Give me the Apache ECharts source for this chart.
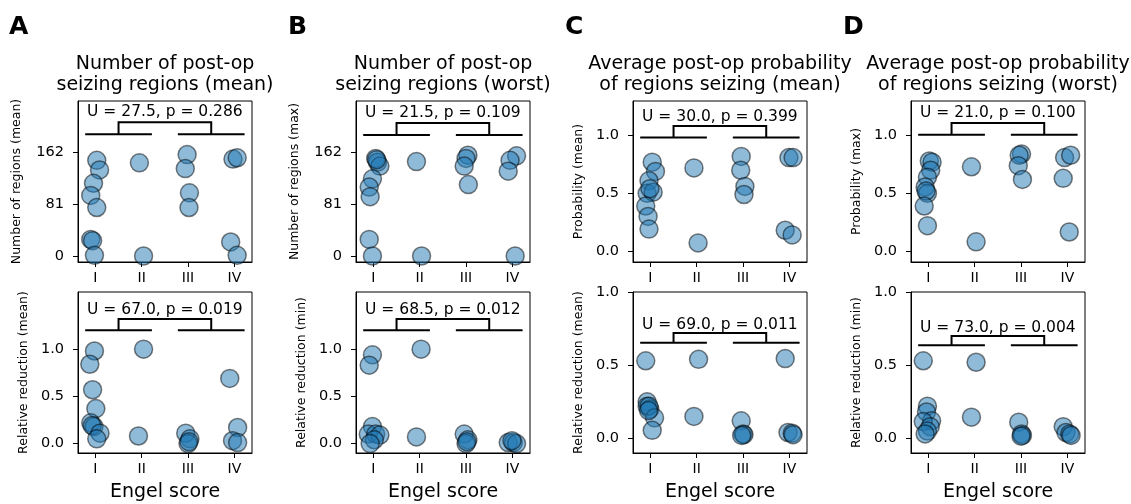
<!DOCTYPE html>
<html>
<head>
<meta charset="utf-8">
<script src="https://cdn.jsdelivr.net/npm/echarts@6/dist/echarts.min.js"></script>
<style>
  html, body { margin: 0; padding: 0; background: #fff; }
  #chart { width: 1131px; height: 504px; }
</style>
</head>
<body>
<div id="chart"></div>
<script>
// Engel score categories
const engelLabels = ["I", "II", "III", "IV"];
const engelTicks = [1, 2, 3, 4];
const countTicks = [0, 81, 162];
const fracTicks = [0, 0.5, 1.0];

// top row: number of regions / probability (x = jittered Engel score)
const regMeanX = [1.03, 1.09, 0.96, 0.90, 1.03, 0.90, 0.94, 0.98, 1.95, 2.04, 2.98, 2.94, 3.03, 3.02, 3.97, 4.06, 3.92, 4.06];
const regMeanY = [150, 135, 114, 95, 76, 26, 24, 1, 146, 0, 159, 137, 99, 76, 152, 154, 22, 1];
const regMaxX = [1.05, 1.09, 1.14, 0.98, 0.91, 0.93, 0.91, 0.98, 1.07, 1.93, 2.04, 3.04, 3.00, 2.96, 3.05, 4.09, 3.95, 3.91, 4.06];
const regMaxY = [153, 147, 141, 121, 108, 93, 26, 0, 151, 148, 0, 158, 153, 141, 112, 157, 150, 133, 0];
const probMeanX = [1.04, 1.11, 0.97, 0.93, 1.06, 0.99, 0.90, 0.95, 0.97, 1.94, 2.03, 2.96, 2.95, 3.04, 3.02, 3.99, 4.08, 3.91, 4.06];
const probMeanY = [0.77, 0.69, 0.61, 0.50, 0.51, 0.54, 0.39, 0.30, 0.19, 0.72, 0.07, 0.82, 0.70, 0.56, 0.49, 0.81, 0.81, 0.18, 0.14];
const probMaxX = [1.02, 1.08, 1.05, 0.98, 0.93, 0.98, 0.95, 0.91, 0.98, 1.93, 2.03, 3.01, 2.96, 2.94, 3.03, 3.94, 4.07, 3.91, 4.04];
const probMaxY = [0.78, 0.77, 0.70, 0.64, 0.555, 0.50, 0.52, 0.39, 0.22, 0.73, 0.08, 0.84, 0.83, 0.74, 0.62, 0.81, 0.83, 0.63, 0.165];

// bottom row: relative reduction
const redRegMeanX = [0.98, 0.88, 0.94, 1.01, 0.90, 0.97, 0.93, 1.10, 1.03, 2.04, 1.93, 2.95, 3.04, 3.00, 3.02, 3.90, 4.07, 3.96, 4.07];
const redRegMeanY = [0.98, 0.84, 0.57, 0.37, 0.22, 0.18, 0.19, 0.11, 0.05, 1.0, 0.08, 0.11, 0.05, 0.0, 0.02, 0.69, 0.17, 0.03, 0.01];
const redRegMinX = [0.98, 0.91, 0.98, 0.89, 1.05, 1.14, 1.02, 0.93, 2.03, 1.93, 2.96, 3.04, 3.00, 3.02, 3.91, 4.02, 4.09, 3.99];
const redRegMinY = [0.94, 0.83, 0.18, 0.10, 0.10, 0.09, 0.04, 0.0, 1.0, 0.07, 0.10, 0.04, 0.0, 0.02, 0.01, 0.01, 0.0, 0.03];
const redProbMeanX = [0.90, 0.93, 0.93, 0.99, 0.97, 1.09, 1.04, 0.96, 2.04, 1.94, 2.96, 3.00, 3.02, 2.97, 3.91, 3.97, 4.06, 4.08];
const redProbMeanY = [0.53, 0.25, 0.22, 0.20, 0.22, 0.14, 0.055, 0.19, 0.54, 0.15, 0.12, 0.03, 0.025, 0.02, 0.545, 0.04, 0.035, 0.025];
const redProbMinX = [0.89, 0.98, 0.96, 1.07, 0.89, 1.04, 0.98, 0.93, 2.03, 1.93, 2.95, 3.01, 3.03, 3.00, 3.91, 3.97, 4.05, 4.08];
const redProbMinY = [0.53, 0.22, 0.18, 0.12, 0.115, 0.08, 0.05, 0.03, 0.52, 0.145, 0.11, 0.03, 0.02, 0.015, 0.08, 0.04, 0.03, 0.02];

// Mann-Whitney results (I+II vs III+IV)
const statTexts = [
  "U = 27.5, p = 0.286", "U = 21.5, p = 0.109", "U = 30.0, p = 0.399", "U = 21.0, p = 0.100",
  "U = 67.0, p = 0.019", "U = 68.5, p = 0.012", "U = 69.0, p = 0.011", "U = 73.0, p = 0.004",
];
const yNames = [
  "Number of regions (mean)", "Number of regions (max)", "Probability (mean)", "Probability (max)",
  "Relative reduction (mean)", "Relative reduction (min)", "Relative reduction (mean)", "Relative reduction (min)",
];
const titles = [
  "Number of post-op\nseizing regions (mean)",
  "Number of post-op\nseizing regions (worst)",
  "Average post-op probability\nof regions seizing (mean)",
  "Average post-op probability\nof regions seizing (worst)",
];
const letters = ["A", "B", "C", "D"];

const FONT = "DejaVu Sans";
const gridLefts = [78, 356, 633, 911];
const gridWidth = 174;
const rowTops = [101, 292];
const gridHeight = 161;

const panels = [
  { x: regMeanX, y: regMeanY, ticks: countTicks, min: -9.4, max: 243, dec: 0, gap: 55 },
  { x: regMaxX, y: regMaxY, ticks: countTicks, min: -9.4, max: 243, dec: 0, gap: 55 },
  { x: probMeanX, y: probMeanY, ticks: fracTicks, min: -0.095, max: 1.30, dec: 1, gap: 48 },
  { x: probMaxX, y: probMaxY, ticks: fracTicks, min: -0.095, max: 1.30, dec: 1, gap: 48 },
  { x: redRegMeanX, y: redRegMeanY, ticks: fracTicks, min: -0.1, max: 1.605, dec: 1, gap: 48 },
  { x: redRegMinX, y: redRegMinY, ticks: fracTicks, min: -0.1, max: 1.605, dec: 1, gap: 48 },
  { x: redProbMeanX, y: redProbMeanY, ticks: fracTicks, min: -0.1, max: 1.0, dec: 1, gap: 48 },
  { x: redProbMinX, y: redProbMinY, ticks: fracTicks, min: -0.1, max: 1.0, dec: 1, gap: 48 },
];

const grid = [], xAxis = [], yAxis = [], series = [];

panels.forEach((p, i) => {
  const col = i % 4, row = Math.floor(i / 4);
  grid.push({
    left: gridLefts[col], top: rowTops[row], width: gridWidth, height: gridHeight,
    show: true, borderColor: "#000", borderWidth: 1, backgroundColor: "transparent",
  });
  xAxis.push({
    type: "value", gridIndex: i, min: 0.625, max: 4.38,
    name: row === 1 ? "Engel score" : "",
    nameLocation: "middle", nameGap: 30,
    nameTextStyle: { fontSize: 19, fontFamily: FONT, color: "#000" },
    axisLine: { show: true, onZero: false, lineStyle: { color: "#000", width: 1 } },
    axisTick: { show: true, length: 5, customValues: engelTicks, lineStyle: { color: "#000" } },
    axisLabel: {
      customValues: engelTicks, margin: 9, fontSize: 14, fontFamily: FONT, color: "#000",
      formatter: (v) => engelLabels[Math.round(v) - 1],
    },
    splitLine: { show: false },
  });
  yAxis.push({
    type: "value", gridIndex: i, min: p.min, max: p.max,
    name: yNames[i], nameLocation: "middle", nameGap: p.gap,
    nameTextStyle: { fontSize: 12.5, fontFamily: FONT, color: "#000" },
    axisLine: { show: true, onZero: false, lineStyle: { color: "#000", width: 1 } },
    axisTick: { show: true, length: 5, customValues: p.ticks, lineStyle: { color: "#000" } },
    axisLabel: {
      customValues: p.ticks, margin: 14, fontSize: 14.5, fontFamily: FONT, color: "#000",
      formatter: (v) => v.toFixed(p.dec),
    },
    splitLine: { show: false },
  });

  // jittered points
  series.push({
    type: "scatter", xAxisIndex: i, yAxisIndex: i,
    data: p.x.map((xv, k) => [xv, p.y[k]]),
    symbolSize: 18,
    itemStyle: { color: "#1f77b4", borderColor: "#000", borderWidth: 1.5, opacity: 0.5 },
    emphasis: { disabled: true },
    silent: true,
    clip: false,
  });

  // significance bracket: base at 1.2 * max, top at 1.32 * max
  const yMaxData = Math.max(...p.y);
  const base = yMaxData * 1.2, top = yMaxData * 1.32;
  series.push({
    type: "lines", coordinateSystem: "cartesian2d", xAxisIndex: i, yAxisIndex: i,
    polyline: true, silent: true,
    lineStyle: { color: "#000", width: 2, opacity: 1 },
    data: [
      { coords: [[0.78, base], [2.22, base]] },
      { coords: [[2.78, base], [4.22, base]] },
      { coords: [[1.5, base], [1.5, top], [3.5, top], [3.5, base]] },
    ],
  });
  series.push({
    type: "scatter", xAxisIndex: i, yAxisIndex: i, silent: true,
    data: [[2.5, yMaxData * 1.42]],
    symbolSize: 1,
    itemStyle: { color: "rgba(0,0,0,0)" },
    label: {
      show: true, position: "inside", formatter: statTexts[i],
      fontSize: 15.5, fontFamily: FONT, color: "#000", opacity: 1,
      textBorderWidth: 0,
    },
  });
});

const graphic = [];
titles.forEach((t, c) => {
  graphic.push({
    type: "text", x: gridLefts[c] + gridWidth / 2, y: 75,
    style: {
      text: t, fill: "#000", fontSize: 19, fontFamily: FONT,
      align: "center", verticalAlign: "middle", lineHeight: 21,
    },
  });
});
const letterX = [9, 288, 565, 843];
letters.forEach((l, c) => {
  graphic.push({
    type: "text", x: letterX[c], y: 27,
    style: {
      text: l, fill: "#000", fontSize: 25, fontWeight: "bold", fontFamily: FONT,
      align: "left", verticalAlign: "middle",
    },
  });
});

const chart = echarts.init(document.getElementById("chart"));
chart.setOption({
  animation: false,
  backgroundColor: "#fff",
  grid, xAxis, yAxis, series, graphic,
});
</script>
</body>
</html>
